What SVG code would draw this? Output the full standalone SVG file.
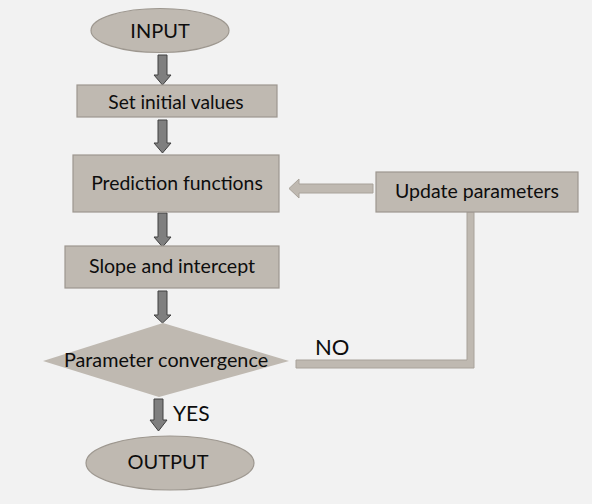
<svg xmlns="http://www.w3.org/2000/svg" width="592" height="504" viewBox="0 0 592 504">
<style>
.node{fill:#bfb9b1;stroke:#9d978f;stroke-width:1.2}
.txt{font-family:Lato,"Liberation Sans",sans-serif;fill:#0d0d0d;text-anchor:middle}
.dark{fill:#7f7f7f;stroke:#404040;stroke-width:1}
.light{fill:#bfb9b1;stroke:#a8a29a;stroke-width:1}
</style>
<rect width="592" height="504" fill="#f2f2f2"/>
<g id="connectors">
<polygon class="dark" points="158,55 167,55 167,75 171,75 162.5,85 154,75 158,75"/>
<polygon class="dark" points="158,120 167,120 167,143 171,143 162.5,153 154,143 158,143"/>
<polygon class="dark" points="158,213 167,213 167,237 171,237 162.5,247 154,237 158,237"/>
<polygon class="dark" points="158,291 167,291 167,315 171,315 162.5,323 154,315 158,315"/>
<polygon class="dark" points="154,399 163,399 163,420 167,420 158.5,431 150,420 154,420"/>
<polygon class="light" points="373,184 373,193 299,193 299,198 289,188.5 299,179 299,184"/>
<polygon class="light" points="296,360 467,360 467,212 474,212 474,368 296,368"/>
<text class="txt" x="315" y="355" font-size="22" style="text-anchor:start">NO</text>
<text class="txt" x="173" y="421" font-size="21" style="text-anchor:start">YES</text>
</g>
<g id="input">
<ellipse class="node" cx="160" cy="30.5" rx="69" ry="22"/>
<text class="txt" x="160" y="38" font-size="20">INPUT</text>
</g>
<g id="set-initial">
<rect class="node" x="77" y="85" width="200" height="32"/>
<text class="txt" x="176" y="109" font-size="19.2">Set initial values</text>
</g>
<g id="prediction">
<rect class="node" x="73" y="155" width="206" height="57"/>
<text class="txt" x="177" y="190" font-size="19.4">Prediction functions</text>
</g>
<g id="update">
<rect class="node" x="376" y="172" width="202" height="40"/>
<text class="txt" x="477" y="198" font-size="19.5">Update parameters</text>
</g>
<g id="slope">
<rect class="node" x="65" y="246" width="214" height="42"/>
<text class="txt" x="172" y="273" font-size="19.6">Slope and intercept</text>
</g>
<g id="convergence">
<polygon class="node" points="163,323 289,361 159,397 43,361" style="stroke:none"/>
<text class="txt" x="166" y="367" font-size="19.8">Parameter convergence</text>
</g>
<g id="output">
<ellipse class="node" cx="170" cy="463" rx="84" ry="27"/>
<text class="txt" x="168" y="469" font-size="20">OUTPUT</text>
</g>
</svg>
